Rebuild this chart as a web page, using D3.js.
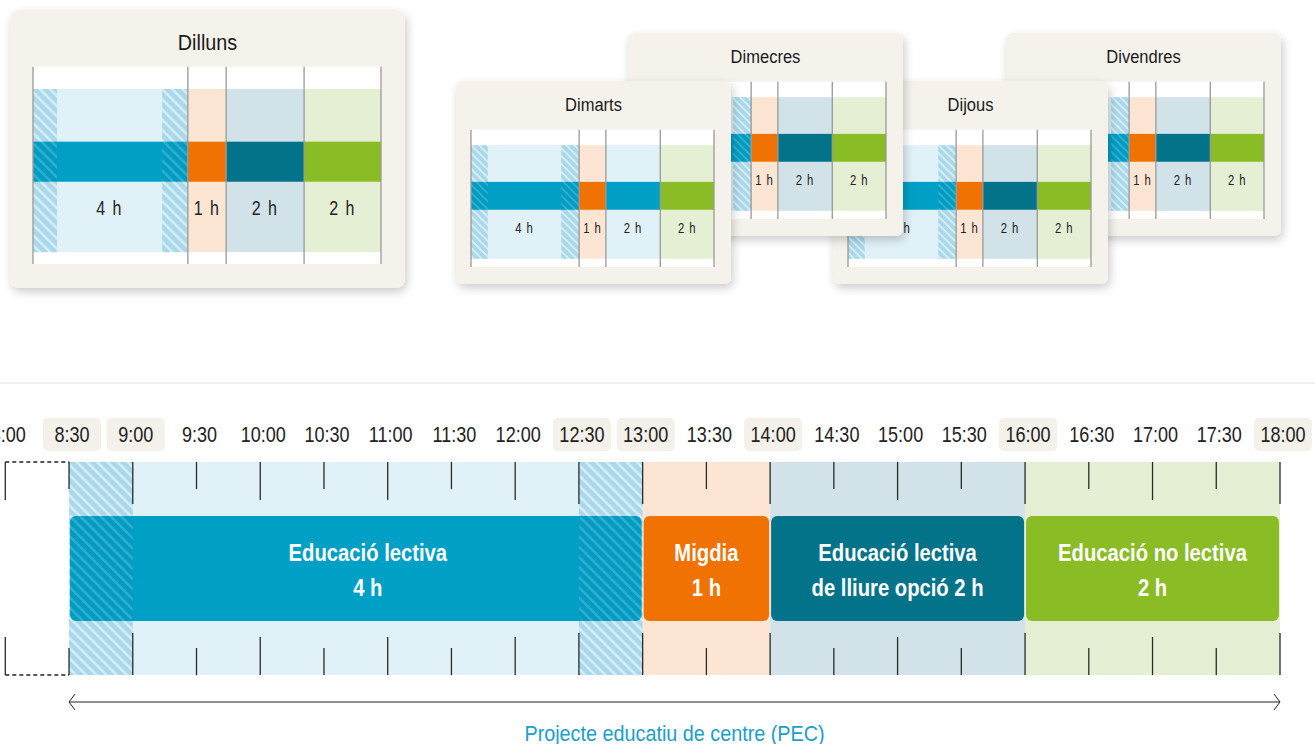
<html>
<head>
<meta charset="utf-8">
<title>Horari escolar</title>
<style>
  body { margin: 0; background: #fff; }
  text { font-family: "Liberation Sans", Arial, sans-serif; }
</style>
</head>
<body>
<script src="https://d3js.org/d3.v7.min.js"></script>
<script>
var w = 1315;
var h = 744;

// days of the week and the type of the 14-16 h slot on each one
var dayNames = ["Dilluns", "Dimarts", "Dimecres", "Dijous", "Divendres"];
var dayAfternoon = ["lliure", "lectiva", "lliure", "lliure", "lliure"];

// blocks of the school day
var segStart = [8.5, 13, 14, 16];
var segEnd = [13, 14, 16, 18];
var segType = ["lectiva", "migdia", "lliure", "nolectiva"];
var segLine1 = ["Educació lectiva", "Migdia", "Educació lectiva", "Educació no lectiva"];
var segLine2 = ["4 h", "1 h", "de lliure opció 2 h", "2 h"];
var segHours = ["4 h", "1 h", "2 h", "2 h"];

// hatched half hours (entry / exit)
var hatchStart = [8.5, 12.5];
var hatchEnd = [9, 13];

// time axis
var tickLabels = ["8:00", "8:30", "9:00", "9:30", "10:00", "10:30", "11:00", "11:30", "12:00", "12:30",
                  "13:00", "13:30", "14:00", "14:30", "15:00", "15:30", "16:00", "16:30", "17:00", "17:30", "18:00"];
var boxedLabels = ["8:30", "9:00", "12:30", "13:00", "14:00", "16:00", "18:00"];
var bottomLabel = "Projecte educatiu de centre (PEC)";

var colors = {
    lectiva:   { dark: "#009fc6", light: "#e0f1f8" },
    migdia:    { dark: "#ef7203", light: "#fde5d4" },
    lliure:    { dark: "#037389", light: "#d1e2e8" },
    nolectiva: { dark: "#8abc25", light: "#e5efd3" }
};

function toHours(s) {
    var p = s.split(":");
    return +p[0] + (+p[1]) / 60;
}

// narrow text: the original uses a condensed face, we squeeze a normal one
function cond(sel, x, y, sx) {
    return sel.attr("transform", function(d, i) {
        var xx = typeof x === "function" ? x(d, i) : x;
        var yy = typeof y === "function" ? y(d, i) : y;
        return "translate(" + xx + "," + yy + ") scale(" + sx + ",1)";
    });
}

var svg = d3.select("body")
            .append("svg")
            .attr("width", w)
            .attr("height", h);

var defs = svg.append("defs");

var shadow = defs.append("filter").attr("id", "shadow")
    .attr("x", "-10%").attr("y", "-10%").attr("width", "125%").attr("height", "130%");
shadow.append("feDropShadow")
    .attr("dx", 2).attr("dy", 4).attr("stdDeviation", 5)
    .attr("flood-color", "#000").attr("flood-opacity", 0.2);

function hatch(id, size, bg, op, sw) {
    var p = defs.append("pattern").attr("id", id)
        .attr("patternUnits", "userSpaceOnUse")
        .attr("width", size).attr("height", size)
        .attr("patternTransform", "rotate(-45)");
    if (bg) p.append("rect").attr("width", size).attr("height", size).attr("fill", bg);
    p.append("rect").attr("width", sw).attr("height", size).attr("fill", "#fff").attr("opacity", op);
}
hatch("hatchBand", 7.2, "#a8d8ea", 0.55, 2.4);
hatch("hatchBar", 7.2, null, 0.2, 2.4);
hatch("hatchBandS", 5.6, "#a8d8ea", 0.55, 1.9);
hatch("hatchBarS", 5.6, null, 0.2, 1.9);

// ---------- day cards ----------
var cardKnots = [8.5, 9, 12.5, 13, 14, 16, 18];
var cardFrac = [0, 0.069, 0.371, 0.445, 0.555, 0.779, 1];

var bigCard = { w: 395, h: 278, r: 9, pl: 23, pr: 24, pt: 56.7, pb: 24, titleDy: 32, titleSize: 22, titleSx: 0.9,
                labelSize: 20, labelSx: 0.8, ls: 1.8, pat: "" };
var smallCard = { w: 275, h: 203, r: 7, pl: 15, pr: 17, pt: 48.7, pb: 17, titleDy: 24, titleSize: 19, titleSx: 0.87,
                  labelSize: 14.5, labelSx: 0.78, ls: 1.2, pat: "S" };
var cardX = [10, 456, 628, 833, 1006];
var cardY = [10, 81, 33, 81, 33];
var drawOrder = [0, 4, 3, 2, 1];

function drawCard(di) {
    var L = di === 0 ? bigCard : smallCard;
    var x0 = cardX[di], y0 = cardY[di];
    var g = svg.append("g");
    var types = segType.map(function(t, i) { return i === 2 ? dayAfternoon[di] : t; });

    g.append("rect")
        .attr("x", x0).attr("y", y0).attr("width", L.w).attr("height", L.h)
        .attr("rx", L.r).attr("fill", "#f5f2ec").attr("filter", "url(#shadow)");

    cond(g.append("text"), x0 + L.w / 2, y0 + L.titleDy, L.titleSx)
        .attr("text-anchor", "middle").attr("dominant-baseline", "central")
        .attr("font-size", L.titleSize).attr("fill", "#1a1a1a")
        .text(dayNames[di]);

    var x = d3.scaleLinear().domain(cardKnots)
        .range(cardFrac.map(function(f) { return x0 + L.pl + f * (L.w - L.pl - L.pr); }));
    var y = d3.scaleLinear().domain([0, 1]).range([y0 + L.pt, y0 + L.h - L.pb]);

    g.append("rect")
        .attr("x", x(8.5)).attr("y", y(0)).attr("width", x(18) - x(8.5)).attr("height", y(1) - y(0))
        .attr("fill", "#fff");

    g.selectAll(".band").data(segStart).enter().append("rect")
        .attr("x", function(d) { return x(d); })
        .attr("y", y(0.113))
        .attr("width", function(d, i) { return x(segEnd[i]) - x(d); })
        .attr("height", y(0.94) - y(0.113))
        .attr("fill", function(d, i) { return colors[types[i]].light; });

    g.selectAll(".hb").data(hatchStart).enter().append("rect")
        .attr("x", function(d) { return x(d); })
        .attr("y", y(0.113))
        .attr("width", function(d, i) { return x(hatchEnd[i]) - x(d); })
        .attr("height", y(0.94) - y(0.113))
        .attr("fill", "url(#hatchBand" + L.pat + ")");

    g.selectAll(".bar").data(segStart).enter().append("rect")
        .attr("x", function(d) { return x(d); })
        .attr("y", y(0.38))
        .attr("width", function(d, i) { return x(segEnd[i]) - x(d); })
        .attr("height", y(0.583) - y(0.38))
        .attr("fill", function(d, i) { return colors[types[i]].dark; });

    hatchStart.forEach(function(d, i) {
        g.append("rect")
            .attr("x", x(d)).attr("y", y(0.38))
            .attr("width", x(hatchEnd[i]) - x(d)).attr("height", y(0.583) - y(0.38))
            .attr("fill", "#006f95").attr("opacity", 0.08);
        g.append("rect")
            .attr("x", x(d)).attr("y", y(0.38))
            .attr("width", x(hatchEnd[i]) - x(d)).attr("height", y(0.583) - y(0.38))
            .attr("fill", "url(#hatchBar" + L.pat + ")");
    });

    var lines = [segStart[0]].concat(segEnd);
    g.selectAll(".vl").data(lines).enter().append("line")
        .attr("x1", function(d) { return x(d); }).attr("x2", function(d) { return x(d); })
        .attr("y1", y(0)).attr("y2", y(1))
        .attr("stroke", "#999").attr("stroke-width", 1.3);

    var labs = g.selectAll(".lab").data(segHours).enter().append("text");
    cond(labs, function(d, i) {
            var a = i === 0 ? hatchEnd[0] : segStart[i];
            var b = i === 0 ? hatchStart[1] : segEnd[i];
            return (x(a) + x(b)) / 2;
        }, y(0.716), L.labelSx)
        .attr("text-anchor", "middle").attr("dominant-baseline", "central")
        .attr("font-size", L.labelSize).attr("letter-spacing", L.ls)
        .attr("fill", "#222")
        .text(function(d) { return d; });
}
drawOrder.forEach(drawCard);

// faint separator
svg.append("line")
    .attr("x1", 0).attr("x2", w).attr("y1", 383).attr("y2", 383)
    .attr("stroke", "#ececec").attr("stroke-width", 1.5);

// ---------- main timeline ----------
var tx = d3.scaleLinear().domain([8, 18]).range([5.3, 1280]);
var bandTop = 462, bandBot = 675, barTop = 516, barBot = 621;
var ticks = tickLabels.map(toHours);
var boundaries = segStart.concat(segEnd, hatchStart, hatchEnd).filter(function(t) { return t > segStart[0]; });

var tl = svg.append("g");

tl.selectAll(".band").data(segStart).enter().append("rect")
    .attr("x", function(d) { return tx(d); })
    .attr("y", bandTop)
    .attr("width", function(d, i) { return tx(segEnd[i]) - tx(d); })
    .attr("height", bandBot - bandTop)
    .attr("fill", function(d, i) { return colors[segType[i]].light; });

tl.selectAll(".hb").data(hatchStart).enter().append("rect")
    .attr("x", function(d) { return tx(d); })
    .attr("y", bandTop)
    .attr("width", function(d, i) { return tx(hatchEnd[i]) - tx(d); })
    .attr("height", bandBot - bandTop)
    .attr("fill", "url(#hatchBand)");

// dashed empty half hour before the start
[bandTop, bandBot].forEach(function(yy) {
    tl.append("line")
        .attr("x1", tx(8)).attr("x2", tx(segStart[0])).attr("y1", yy).attr("y2", yy)
        .attr("stroke", "#222").attr("stroke-width", 1.3).attr("stroke-dasharray", "4,3");
});

function tickLen(t) {
    if (boundaries.indexOf(t) >= 0) return 42;
    if (t % 1 === 0) return 38;
    return 27;
}
tl.selectAll(".tt").data(ticks).enter().append("line")
    .attr("x1", function(d) { return tx(d); }).attr("x2", function(d) { return tx(d); })
    .attr("y1", bandTop).attr("y2", function(d) { return bandTop + tickLen(d); })
    .attr("stroke", "#2a2a2a").attr("stroke-width", 1.3);
tl.selectAll(".tb").data(ticks).enter().append("line")
    .attr("x1", function(d) { return tx(d); }).attr("x2", function(d) { return tx(d); })
    .attr("y1", function(d) { return bandBot - tickLen(d); }).attr("y2", bandBot)
    .attr("stroke", "#2a2a2a").attr("stroke-width", 1.3);

// bars
var bars = tl.selectAll(".bar").data(segStart).enter().append("g");
bars.append("rect")
    .attr("x", function(d) { return tx(d) + 1; })
    .attr("y", barTop)
    .attr("width", function(d, i) { return tx(segEnd[i]) - tx(d) - 2; })
    .attr("height", barBot - barTop)
    .attr("rx", 6)
    .attr("fill", function(d, i) { return colors[segType[i]].dark; });

hatchStart.forEach(function(d, i) {
    var x1 = tx(d) + (i === 0 ? 1 : 0), x2 = tx(hatchEnd[i]) - (i === 1 ? 1 : 0);
    tl.append("rect")
        .attr("x", x1).attr("y", barTop).attr("width", x2 - x1).attr("height", barBot - barTop)
        .attr("rx", 6).attr("fill", "#006f95").attr("opacity", 0.08);
    tl.append("rect")
        .attr("x", x1).attr("y", barTop).attr("width", x2 - x1).attr("height", barBot - barTop)
        .attr("rx", 6).attr("fill", "url(#hatchBar)");
});

function barMid(d, i) { return (tx(d) + tx(segEnd[i])) / 2 + (i === 0 ? 12 : 0); }
cond(bars.append("text"), barMid, 561, 0.88)
    .attr("text-anchor", "middle")
    .attr("font-size", 23).attr("font-weight", "bold").attr("fill", "#fff")
    .text(function(d, i) { return segLine1[i]; });
cond(bars.append("text"), barMid, 596, 0.88)
    .attr("text-anchor", "middle")
    .attr("font-size", 23).attr("font-weight", "bold").attr("fill", "#fff")
    .text(function(d, i) { return segLine2[i]; });

// tick labels
var labs = tl.selectAll(".tl").data(tickLabels).enter().append("g")
    .attr("transform", function(d) { return "translate(" + (tx(toHours(d)) + 3) + ",434.5)"; });
labs.filter(function(d) { return boxedLabels.indexOf(d) >= 0; })
    .append("rect")
    .attr("x", -29).attr("y", -16.5).attr("width", 58).attr("height", 33).attr("rx", 5)
    .attr("fill", "#f4f1ea");
cond(labs.append("text"), 0, 0, 0.82)
    .attr("text-anchor", "middle").attr("dominant-baseline", "central")
    .attr("font-size", 22).attr("fill", "#222")
    .text(function(d) { return d; });

// PEC arrow
var ay = 702, ax1 = tx(segStart[0]), ax2 = tx(18);
tl.append("line").attr("x1", ax1).attr("x2", ax2).attr("y1", ay).attr("y2", ay)
    .attr("stroke", "#222").attr("stroke-width", 1.2);
tl.append("path")
    .attr("d", "M" + (ax1 + 6) + "," + (ay - 8) + "L" + ax1 + "," + ay + "L" + (ax1 + 6) + "," + (ay + 8) +
               "M" + (ax2 - 6) + "," + (ay - 8) + "L" + ax2 + "," + ay + "L" + (ax2 - 6) + "," + (ay + 8))
    .attr("fill", "none").attr("stroke", "#222").attr("stroke-width", 1);
cond(tl.append("text"), (ax1 + ax2) / 2, 733, 0.9)
    .attr("text-anchor", "middle").attr("dominant-baseline", "central")
    .attr("font-size", 22).attr("fill", "#1ba0c9")
    .text(bottomLabel);
</script>
</body>
</html>
